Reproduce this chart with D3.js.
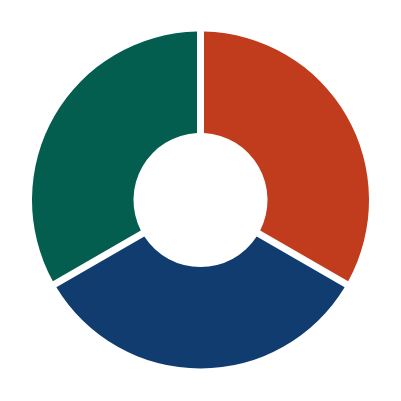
<!DOCTYPE html>
<html>
<head>
<meta charset="utf-8">
<script src="https://cdn.jsdelivr.net/npm/d3@7"></script>
<style>
  html, body { margin: 0; padding: 0; background: #fff; }
</style>
</head>
<body>
<svg id="chart"></svg>
<script>
const categories = ['A', 'B', 'C'];
const values = [1, 1, 1];
const colors = ['#c13c1c', '#103c6f', '#035e4f'];

const size = { width: 401, height: 401 };
const cx = 200.5;
const cy = 200;
const outer = 168.5;
const inner = 67;

const svg = d3.select('#chart').attr('width', size.width).attr('height', size.height);

const data = categories.map((c, i) => ({ name: c, value: values[i] }));

const pie = d3.pie().sort(null).value((d) => d.value).padAngle(7 / 120);

const arc = d3.arc().innerRadius(inner).outerRadius(outer).padRadius(120);

const color = d3.scaleOrdinal().domain(categories).range(colors);

svg
  .append('g')
  .attr('transform', `translate(${cx}, ${cy})`)
  .selectAll('path')
  .data(pie(data))
  .enter()
  .append('path')
  .attr('d', arc)
  .attr('fill', (d) => color(d.data.name));
</script>
</body>
</html>
